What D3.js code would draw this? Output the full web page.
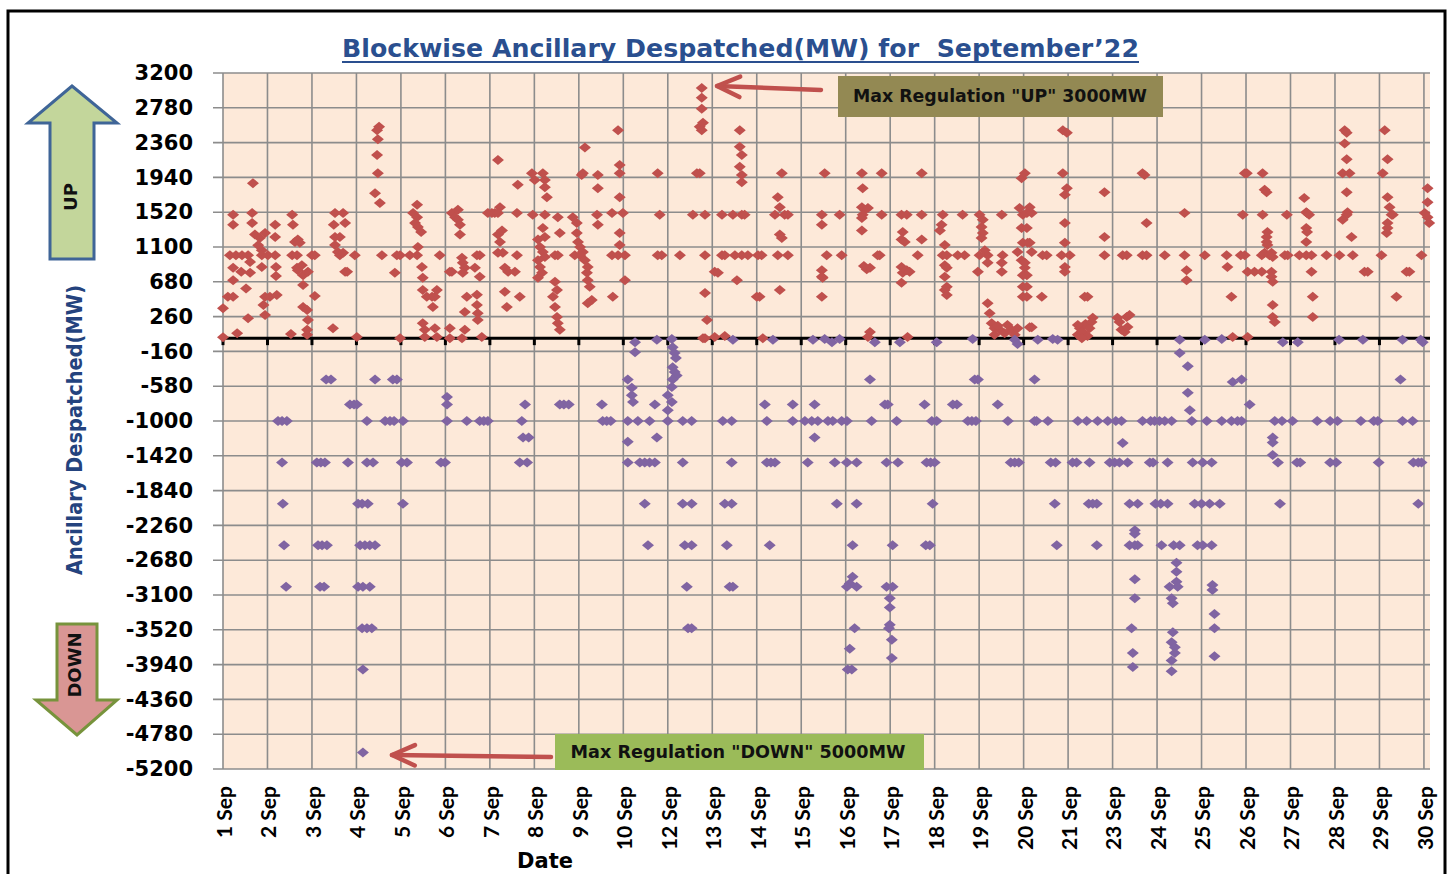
<!DOCTYPE html>
<html><head><meta charset="utf-8">
<script src="https://cdn.jsdelivr.net/npm/d3@7"></script>
<style>body{margin:0;background:#fff}svg{display:block}</style>
</head><body>
<svg id="chart" width="1453" height="874"></svg>
<script>
// ---------- data ----------
const yTicks = [3200,2780,2360,1940,1520,1100,680,260,-160,-580,-1000,-1420,-1840,-2260,-2680,-3100,-3520,-3940,-4360,-4780,-5200];
const xTickLabels = ["1 Sep","2 Sep","3 Sep","4 Sep","5 Sep","6 Sep","7 Sep","8 Sep","9 Sep","10 Sep","12 Sep","13 Sep","14 Sep","15 Sep","16 Sep","17 Sep","18 Sep","19 Sep","20 Sep","21 Sep","23 Sep","24 Sep","25 Sep","26 Sep","27 Sep","28 Sep","29 Sep","30 Sep"];
const majorUnitDays = 1.1;
const titleText = "Blockwise Ancillary Despatched(MW) for  September\u201922";
const yAxisTitle = "Ancillary Despatched(MW)";
const xAxisTitle = "Date";
const upNote = 'Max Regulation "UP" 3000MW';
const downNote = 'Max Regulation "DOWN" 5000MW';

// [day of month (fractional), MW]
const upPoints = [
[1.00,360],[1.12,500],[1.25,500],[1.00,10],[1.35,60],[1.25,700],[1.25,850],[1.17,1000],[1.32,1000],[1.47,1000],[1.62,1000],[1.25,1490],[1.25,1370],[1.72,1510],[1.72,1390],[1.74,1870],[1.62,240],[1.57,600],[1.45,800],[1.67,790],[1.67,920],[1.79,1250],[1.91,1210],[2.04,1270],[1.87,1120],[1.96,1060],[1.96,1000],[2.11,1000],[2.29,1000],[1.96,860],[2.04,500],[2.16,500],[2.33,520],[2.00,400],[2.04,280],[2.29,1370],[2.29,1220],[2.31,860],[2.31,750],
[2.71,1490],[2.73,1370],[2.78,1160],[2.85,1190],[2.90,1150],[2.71,1000],[2.83,1000],[2.83,850],[2.85,820],[2.95,880],[2.98,760],[2.98,640],[2.98,375],[3.08,340],[3.10,220],[3.08,100],[3.08,40],[2.68,50],[3.20,1000],[3.27,1000],[3.10,800],[3.27,510],[3.72,120],[3.77,1510],[3.97,1510],[4.02,1390],[3.74,1370],[3.77,1220],[3.89,1220],[3.77,1125],[3.84,1040],[3.89,1000],[3.97,1030],[4.02,800],[4.07,800],[4.26,1000],[4.31,15],
[4.81,2510],[4.86,2550],[4.83,2400],[4.81,2210],[4.83,1990],[4.76,1750],[4.88,1630],[4.93,1000],[5.25,790],[5.30,1000],[5.38,1000],[5.38,0],
[5.62,1000],[5.80,1000],[5.80,1610],[5.70,1510],[5.80,1460],[5.75,1390],[5.82,1340],[5.90,1280],[5.82,1100],[5.92,860],[5.94,730],[5.94,580],[6.04,500],[6.17,500],[6.24,500],[6.19,375],[6.29,580],[5.94,180],[5.99,100],[5.99,15],[6.24,120],[6.29,15],[6.36,1000],
[6.61,800],[6.66,800],[6.61,120],[6.61,0],[6.66,1510],[6.74,1460],[6.81,1430],[6.86,1370],[6.86,1250],[6.81,1550],[6.91,970],[6.93,910],[6.98,850],[6.93,790],[6.91,0],[7.03,500],[7.28,525],[6.98,315],[6.98,100],[7.28,400],[7.30,300],[7.30,220],[7.23,850],[7.35,740],[7.28,1000],[7.35,1000],[7.40,15],
[7.55,1510],[7.65,1510],[7.72,1510],[7.85,1580],[7.80,1510],[7.80,1250],[7.85,1160],[7.90,1300],[7.80,1030],[7.92,1030],[7.97,850],[8.05,800],[8.22,800],[7.97,560],[8.02,375],[8.34,500],[8.27,1000],[8.27,1510],[8.29,1850],[7.80,2150],
[8.64,1990],[8.91,1990],[8.71,1910],[8.96,1910],[8.96,1820],[8.66,1490],[8.96,1490],[9.01,1700],[8.91,1330],[8.96,1220],[8.79,1190],[8.84,1100],[8.91,1040],[8.96,980],[8.79,940],[8.84,860],[8.89,790],[8.79,730],[9.21,1000],[9.28,1000],[9.21,680],[9.26,580],[9.16,500],[9.21,375],[9.26,255],[9.28,180],[9.33,100],[9.28,1460],[9.33,1270],
[9.65,1460],[9.75,1390],[9.87,1970],[9.90,1990],[9.95,2300],[9.75,1270],[9.78,1160],[9.83,1100],[9.90,1040],[9.70,1000],[9.83,1000],[9.95,940],[10.02,860],[10.00,790],[10.02,700],[10.07,620],[10.12,460],[10.02,420],[10.25,1490],[10.27,1370],[10.27,1810],[10.27,1970],[10.64,500],[10.62,1000],[10.77,1000],[10.62,1510],[10.89,1510],[10.77,2510],[10.81,2090],[10.81,1990],[10.81,1700],[10.81,1270],[10.81,1125],[10.94,1000],[10.94,700],
[11.75,1990],[11.80,1490],[11.75,1000],[11.85,1000],[12.30,1000],[12.72,1990],[12.79,1990],[12.84,3020],[12.84,2900],[12.84,2770],[12.79,2550],[12.84,2510],[12.87,2600],[12.62,1490],[12.92,1490],[12.92,1000],[12.92,545],[12.97,220],[12.92,0],[12.87,0],[13.16,800],[13.24,790],[13.34,1000],[13.41,1000],[13.16,15],[13.41,25],[13.34,1490],[13.61,1490],[13.83,1490],[13.90,1490],[13.66,1000],[13.83,1000],[13.98,1000],[13.71,700],[13.78,2510],[13.78,2310],[13.83,2210],[13.78,2070],[13.83,1970],[13.83,1880],[14.20,500],[14.27,500],[14.23,1000],[14.32,1000],[14.35,0],
[14.72,1700],[14.77,1580],[14.65,1490],[14.89,1490],[14.97,1490],[14.77,1250],[14.82,1210],[14.72,1000],[14.97,1000],[14.77,580],[14.82,1990],[15.81,1490],[15.81,1370],[15.88,1990],[15.93,1000],[15.81,820],[15.81,740],[15.83,730],[15.81,500],[16.25,1490],[16.30,1000],
[16.80,1990],[17.29,1990],[16.82,1810],[16.80,1580],[16.87,1550],[16.95,1570],[16.82,1490],[16.80,1450],[16.80,1300],[16.92,830],[17.00,850],[16.85,870],[17.19,1000],[17.24,1000],[17.29,1490],[17.00,75],[16.95,15],[17.78,1490],[17.91,1490],[17.81,1280],[17.78,1190],[17.86,1160],[17.78,860],[17.81,790],[17.91,820],[17.98,800],[17.78,670],[17.93,15],[18.28,1990],[18.28,1490],[18.28,1190],[18.18,1000],
[18.80,1490],[19.29,1490],[18.77,1370],[18.73,1300],[18.85,1125],[18.80,1000],[18.90,1000],[19.17,1000],[19.34,1000],[18.85,880],[18.90,850],[18.85,740],[18.90,620],[18.85,580],[18.90,520],[19.71,1490],[19.79,1430],[19.76,1340],[19.79,1270],[19.76,1210],[19.84,1060],[19.91,1000],[19.71,1000],[19.91,910],[19.67,800],[19.91,420],[19.96,300],[20.01,180],[20.08,120],[20.26,1490],[20.28,1000],[20.26,910],[20.26,800],[20.08,40],[20.21,100],[20.33,60],[20.40,160],[20.50,100],[20.58,40],[20.65,120],[20.16,150],[20.75,1930],[20.83,1990],[20.70,1570],[20.78,1490],[20.75,1330],[20.78,1150],[20.65,1040],[20.75,940],[20.83,850],[20.78,760],[20.78,620],[20.78,500],[20.95,130],[20.95,1580],[20.95,1150],
[20.88,1510],[21.00,1510],[20.88,1330],[20.90,1150],[21.00,1040],[20.83,910],[20.88,760],[20.88,620],[20.88,500],[21.00,130],[21.27,1000],[21.37,1000],[21.25,500],[21.77,2510],[21.87,2480],[21.77,1990],[21.87,1810],[21.82,1730],[21.82,1390],[21.82,1150],[21.74,1000],[21.94,1000],[21.82,860],[21.82,800],[22.14,40],[22.19,120],[22.26,75],[22.33,170],[22.38,25],[22.43,120],[22.51,245],[22.14,160],[22.24,0],[22.48,195],[22.31,500],[22.38,500],[22.80,1760],[22.80,1220],[22.80,1000],[23.12,245],[23.35,255],[23.42,280],[23.22,100],[23.30,75],[23.17,195],[23.37,135],[23.25,1000],[23.35,1000],[23.74,1990],[23.79,1970],[23.84,1390],[23.74,1000],[23.84,1000],[24.29,1000],[24.78,1510],[24.78,1000],[24.83,820],[24.83,700],[25.28,1000],[25.82,1000],[25.84,860],[25.94,500],[25.97,15],
[26.27,1990],[26.32,1990],[26.22,1490],[26.27,1000],[26.17,1000],[26.34,800],[26.51,800],[26.69,800],[26.34,15],[26.71,1990],[26.76,1790],[26.81,1760],[26.71,1490],[26.83,1280],[26.81,1220],[26.81,1160],[26.83,1125],[26.76,1030],[26.93,1030],[26.69,1000],[26.88,1000],[26.96,980],[26.93,800],[26.93,740],[26.96,680],[26.96,400],[26.96,255],[27.01,195],[27.31,1490],[27.26,1000],[27.33,1000],[27.62,1000],[27.79,1000],[27.92,1000],[27.74,1690],[27.79,1520],[27.81,1510],[27.86,1490],[27.79,1330],[27.81,1280],[27.79,1160],[27.92,800],[27.95,500],[27.95,255],[28.29,1000],[28.61,1000],[28.94,1000],[28.74,2510],[28.79,2480],[28.74,2350],[28.79,2160],[28.69,1990],[28.86,1990],[28.79,1760],[28.81,1520],[28.79,1490],[28.69,1430],[28.91,1220],[29.23,800],[29.31,800],[29.68,1990],[29.73,2510],[29.80,2160],[29.80,1700],[29.85,1580],[29.90,1490],[29.93,1490],[29.80,1390],[29.80,1330],[29.78,1270],[29.65,1000],[30.02,500],[30.27,800],[30.34,800],[30.64,1000],[30.79,1810],[30.79,1640],[30.72,1510],[30.79,1460],[30.83,1390]
];

const downPoints = [
[2.36,-1000],[2.46,-1000],[2.58,-1000],[2.46,-1500],[2.48,-2000],[2.51,-2500],[2.56,-3000],
[3.32,-1500],[3.42,-1500],[3.52,-1500],[3.35,-2500],[3.45,-2500],[3.57,-2500],[3.40,-3000],[3.50,-3000],[3.55,-500],[3.67,-500],[4.09,-1500],[4.14,-800],[4.24,-800],[4.31,-800],
[4.56,-1000],[4.34,-2000],[4.44,-2000],[4.58,-2000],[4.39,-2500],[4.51,-2500],[4.63,-2500],[4.76,-2500],[4.34,-3000],[4.46,-3000],[4.63,-3000],[4.44,-3500],[4.56,-3500],[4.68,-3500],[4.46,-4000],[4.46,-5000],[4.56,-1500],[4.71,-1500],[4.76,-500],
[5.01,-1000],[5.13,-1000],[5.23,-1000],[5.45,-1000],[5.20,-500],[5.30,-500],[5.42,-1500],[5.55,-1500],[5.45,-2000],
[6.39,-1500],[6.49,-1500],[6.54,-710],[6.54,-800],[6.54,-1000],[7.03,-1000],[7.35,-1000],[7.45,-1000],[7.55,-1000],
[8.39,-1000],[8.47,-800],[8.42,-1200],[8.56,-1200],[8.34,-1500],[8.52,-1500],[9.33,-800],[9.43,-800],[9.55,-800],[10.37,-800],[10.39,-1000],[10.49,-1000],[10.59,-1000],
[11.01,-500],[11.19,-50],[11.19,-170],[11.11,-600],[11.11,-690],[11.14,-770],[11.01,-1000],[11.26,-1000],[11.55,-1000],[12.00,-1000],[11.68,-800],[11.01,-1250],[11.73,-1200],[11.01,-1500],[11.31,-1500],[11.43,-1500],[11.55,-1500],[11.68,-1500],[11.43,-2000],[11.51,-2500],[11.73,-20],[12.10,-10],
[12.12,-110],[12.17,-180],[12.20,-240],[12.12,-350],[12.17,-410],[12.22,-450],[12.12,-500],[12.10,-590],[12.00,-690],[12.10,-770],[12.00,-870],[12.37,-1000],[12.59,-1000],[12.37,-1500],[12.37,-2000],[12.59,-2000],[12.42,-2500],[12.59,-2500],[12.47,-3000],[12.50,-3500],[12.59,-3500],
[13.36,-1000],[13.58,-1000],[13.58,-1500],[13.41,-2000],[13.58,-2000],[13.46,-2500],[13.53,-3000],[13.61,-3000],[13.61,-20],[14.40,-800],[14.45,-1000],[14.45,-1500],[14.55,-1500],[14.65,-1500],[14.52,-2500],[14.60,-20],
[15.09,-800],[15.09,-1000],[15.46,-1500],[15.39,-1000],[15.56,-1000],[15.71,-1000],[15.63,-800],[15.63,-1200],[15.59,-20],[15.88,-10],[16.06,-50],[16.25,-10],[15.96,-1000],[16.08,-1000],[16.30,-1000],[16.43,-1000],[16.13,-1500],[16.43,-1500],[16.67,-1500],[16.18,-2000],[16.67,-2000],[16.57,-2500],[16.57,-2880],[16.50,-2960],[16.43,-3000],[16.67,-3000],[16.62,-3500],[16.50,-3750],[16.45,-4000],[16.55,-4000],
[17.00,-500],[17.04,-1000],[17.12,-50],[17.37,-800],[17.44,-800],[17.41,-1500],[17.69,-1500],[17.56,-2500],[17.41,-3000],[17.56,-3000],[17.49,-3140],[17.49,-3250],[17.49,-3460],[17.47,-3500],[17.54,-3640],[17.54,-3860],[17.66,-1000],[17.74,-50],
[18.35,-800],[18.53,-1000],[18.65,-1000],[18.40,-1500],[18.50,-1500],[18.60,-1500],[18.55,-2000],[18.38,-2500],[18.48,-2500],[18.65,-50],[19.05,-800],[19.15,-800],[19.42,-1000],[19.52,-1000],[19.62,-1000],[19.59,-500],[19.67,-500],[19.54,-10],[20.16,-800],[20.41,-1000],[20.48,-1500],[20.58,-1500],[20.68,-1500],[20.58,-20],[20.65,-70],
[21.07,-500],[21.07,-1000],[21.15,-20],[21.52,-10],[21.64,-20],[21.12,-1000],[21.40,-1000],[21.47,-1500],[21.59,-1500],[21.57,-2000],[21.62,-2500],
[22.14,-1000],[22.36,-1000],[22.63,-1000],[22.88,-1000],[23.08,-1000],[23.22,-1000],[22.01,-1500],[22.11,-1500],[22.43,-1500],[22.41,-2000],[22.51,-2000],[22.61,-2000],[22.61,-2500],[22.93,-1500],[23.05,-1500],[23.17,-1500],[23.37,-1500],[23.25,-1265],
[23.74,-1000],[23.94,-1000],[24.04,-1000],[24.16,-1000],[24.29,-1000],[24.46,-1000],[23.42,-2000],[23.62,-2000],[23.55,-2320],[23.55,-2360],[23.42,-2500],[23.55,-2500],[23.62,-2500],[23.55,-2910],[23.55,-3140],[23.47,-3500],[23.50,-3800],[23.50,-3970],
[23.92,-1500],[24.00,-1500],[24.36,-1500],[24.06,-2000],[24.19,-2000],[24.36,-2000],[24.21,-2500],[24.51,-2500],[24.66,-2500],[24.58,-2710],[24.58,-2820],[24.58,-2940],[24.41,-3000],[24.61,-3000],[24.46,-3140],[24.49,-3200],[24.49,-3550],[24.46,-3670],[24.54,-3730],[24.54,-3800],[24.46,-3890],[24.46,-4020],
[24.66,-20],[24.66,-180],[24.86,-340],[24.86,-660],[24.91,-870],[24.96,-1000],[25.33,-1000],[24.98,-1500],[25.23,-1500],[25.45,-1500],[25.03,-2000],[25.20,-2000],[25.40,-2000],[25.65,-2000],[25.10,-2500],[25.23,-2500],[25.45,-2500],[25.47,-2980],[25.47,-3040],[25.52,-3330],[25.52,-3500],[25.52,-3840],[25.28,-20],[25.70,-10],
[25.70,-1000],[25.94,-1000],[26.09,-1000],[26.19,-1000],[25.97,-530],[26.19,-500],[26.39,-800],
[27.01,-1000],[27.19,-1000],[27.45,-1000],[26.96,-1200],[26.96,-1260],[26.96,-1410],[27.09,-1500],[27.56,-1500],[27.64,-1500],[27.14,-2000],[27.21,-50],[27.58,-50],
[28.06,-1000],[28.38,-1000],[28.56,-1000],[28.38,-1500],[28.53,-1500],[28.60,-20],[29.19,-20],[29.14,-1000],[29.46,-1000],[29.56,-1000],[29.58,-1500],[30.12,-500],[30.17,-1000],[30.42,-1000],[30.44,-1500],[30.56,-1500],[30.64,-1500],[30.56,-2000],[30.17,-20],[30.62,-20],[30.67,-50]
];

// ---------- chart ----------
const svg = d3.select("#chart");
const L = 223, R = 1430, T = 73, B = 769;
const x = d3.scaleLinear().domain([1, 30.85]).range([L, R]);
const y = d3.scaleLinear().domain([-5200, 3200]).range([B, T]);
const xTickDays = xTickLabels.map((_, i) => 1 + majorUnitDays * i);

const upColor = "#C0504D", downColor = "#8064A2", gridColor = "#8C8C8C";
const boldFont = "'DejaVu Sans', sans-serif";

// outer frame
svg.append("rect").attr("x", 8).attr("y", 11).attr("width", 1437).attr("height", 880)
  .attr("fill", "#fff").attr("stroke", "#000").attr("stroke-width", 3);

// plot bg
svg.append("rect").attr("x", L).attr("y", T).attr("width", R - L).attr("height", B - T).attr("fill", "#FDE9D9");

// horizontal grid (extends left as tick marks)
svg.append("g").selectAll("line").data(yTicks).join("line")
  .attr("x1", L - 10).attr("x2", R).attr("y1", d => y(d)).attr("y2", d => y(d))
  .attr("stroke", gridColor).attr("stroke-width", 1.6);
// vertical grid
svg.append("g").selectAll("line").data(xTickDays).join("line")
  .attr("x1", d => x(d)).attr("x2", d => x(d)).attr("y1", T).attr("y2", B)
  .attr("stroke", gridColor).attr("stroke-width", 1.6);

// y axis labels (plain hyphen minus as in the original)
const yAxis = svg.append("g").attr("transform", `translate(${L},0)`)
  .call(d3.axisLeft(y).tickValues(yTicks).tickSize(0).tickPadding(30).tickFormat(d => String(d)));
yAxis.select(".domain").remove();
yAxis.selectAll("text").attr("font-family", boldFont).attr("font-weight", "bold")
  .attr("font-size", 21).attr("fill", "#000");

// x axis labels (rotated)
const xAxis = svg.append("g").attr("transform", `translate(0,${B})`)
  .call(d3.axisBottom(x).tickValues(xTickDays).tickSize(0).tickFormat((d, i) => xTickLabels[i]));
xAxis.select(".domain").remove();
xAxis.selectAll("text")
  .attr("transform", "rotate(-90)").attr("text-anchor", "end")
  .attr("x", -17).attr("y", 0).attr("dy", "0.4em")
  .attr("font-family", "Lato, 'DejaVu Sans', sans-serif").attr("font-weight", "bold")
  .attr("font-size", 21).attr("fill", "#000");

// zero axis line with tick marks
svg.append("line").attr("x1", L).attr("x2", R).attr("y1", y(0)).attr("y2", y(0))
  .attr("stroke", "#000").attr("stroke-width", 3);
svg.append("g").selectAll("line").data(xTickDays).join("line")
  .attr("x1", d => x(d)).attr("x2", d => x(d)).attr("y1", y(0)).attr("y2", y(0) + 7)
  .attr("stroke", "#000").attr("stroke-width", 3);

// markers
const diamond = "M0,-5L6,0L0,5L-6,0Z";
svg.append("g").selectAll("path").data(upPoints).join("path")
  .attr("d", diamond).attr("transform", d => `translate(${x(d[0])},${y(d[1])})`)
  .attr("fill", upColor);
svg.append("g").selectAll("path").data(downPoints).join("path")
  .attr("d", diamond).attr("transform", d => `translate(${x(d[0])},${y(d[1])})`)
  .attr("fill", downColor);

// title
svg.append("text").attr("x", 740.5).attr("y", 57).attr("text-anchor", "middle")
  .attr("font-family", boldFont).attr("font-weight", "bold").attr("font-size", 25)
  .attr("fill", "#2A4F8F").attr("textLength", 797).attr("lengthAdjust", "spacingAndGlyphs")
  .attr("xml:space", "preserve").style("white-space", "pre")
  .text(titleText);
svg.append("line").attr("x1", 342).attr("x2", 1139).attr("y1", 62).attr("y2", 62)
  .attr("stroke", "#2A4F8F").attr("stroke-width", 2);

// y axis title
svg.append("text").attr("transform", "translate(82,430) rotate(-90)").attr("text-anchor", "middle")
  .attr("font-family", boldFont).attr("font-weight", "bold").attr("font-size", 22)
  .attr("fill", "#24437E").attr("textLength", 290).attr("lengthAdjust", "spacingAndGlyphs")
  .text(yAxisTitle);

// x axis title
svg.append("text").attr("x", 545).attr("y", 868).attr("text-anchor", "middle")
  .attr("font-family", boldFont).attr("font-weight", "bold").attr("font-size", 21)
  .attr("fill", "#000").text(xAxisTitle);

// UP block arrow
svg.append("path").attr("d", "M72,86 L117,123 L94,123 L94,259 L50,259 L50,123 L28,123 Z")
  .attr("fill", "#C3D69B").attr("stroke", "#3F6597").attr("stroke-width", 3).attr("stroke-linejoin", "miter");
svg.append("text").attr("transform", "translate(71,197) rotate(-90)").attr("text-anchor", "middle")
  .attr("dy", "0.35em").attr("font-family", boldFont).attr("font-weight", "bold").attr("font-size", 18)
  .attr("fill", "#111").text("UP");

// DOWN block arrow
svg.append("path").attr("d", "M57,624 L97,624 L97,700 L117,700 L77,735 L36,700 L57,700 Z")
  .attr("fill", "#D99694").attr("stroke", "#77933C").attr("stroke-width", 3).attr("stroke-linejoin", "miter");
svg.append("text").attr("transform", "translate(75,665) rotate(-90)").attr("text-anchor", "middle")
  .attr("dy", "0.35em").attr("font-family", boldFont).attr("font-weight", "bold").attr("font-size", 18)
  .attr("fill", "#111").text("DOWN");

// annotation boxes
function note(bx, by, bw, bh, fill, txt, tw, cx, cy) {
  svg.append("rect").attr("x", bx).attr("y", by).attr("width", bw).attr("height", bh).attr("fill", fill);
  svg.append("text").attr("x", cx).attr("y", cy).attr("text-anchor", "middle").attr("dy", "0.35em")
    .attr("font-family", boldFont).attr("font-weight", "bold").attr("font-size", 17).attr("fill", "#111")
    .attr("textLength", tw).attr("lengthAdjust", "spacingAndGlyphs").text(txt);
}
note(838, 76, 325, 41, "#938953", upNote, 294, 1000, 96);
note(555, 734, 369, 36, "#9BBB59", downNote, 335, 738, 752);

// red pointer arrows
function pointer(x1, y1, x2, y2) {
  const g = svg.append("g").attr("stroke", upColor).attr("stroke-width", 4.5)
    .attr("stroke-linecap", "round").attr("fill", "none");
  const ang = Math.atan2(y2 - y1, x2 - x1);
  const hl = 25, ha = 0.42;
  g.append("line").attr("x1", x1).attr("y1", y1).attr("x2", x2).attr("y2", y2);
  g.append("path").attr("d",
    `M${x2 - hl * Math.cos(ang - ha)},${y2 - hl * Math.sin(ang - ha)} L${x2},${y2} L${x2 - hl * Math.cos(ang + ha)},${y2 - hl * Math.sin(ang + ha)}`)
    .attr("stroke-linejoin", "round");
}
pointer(821, 90, 717, 86);
pointer(551, 757, 392, 755);
</script>
</body></html>
